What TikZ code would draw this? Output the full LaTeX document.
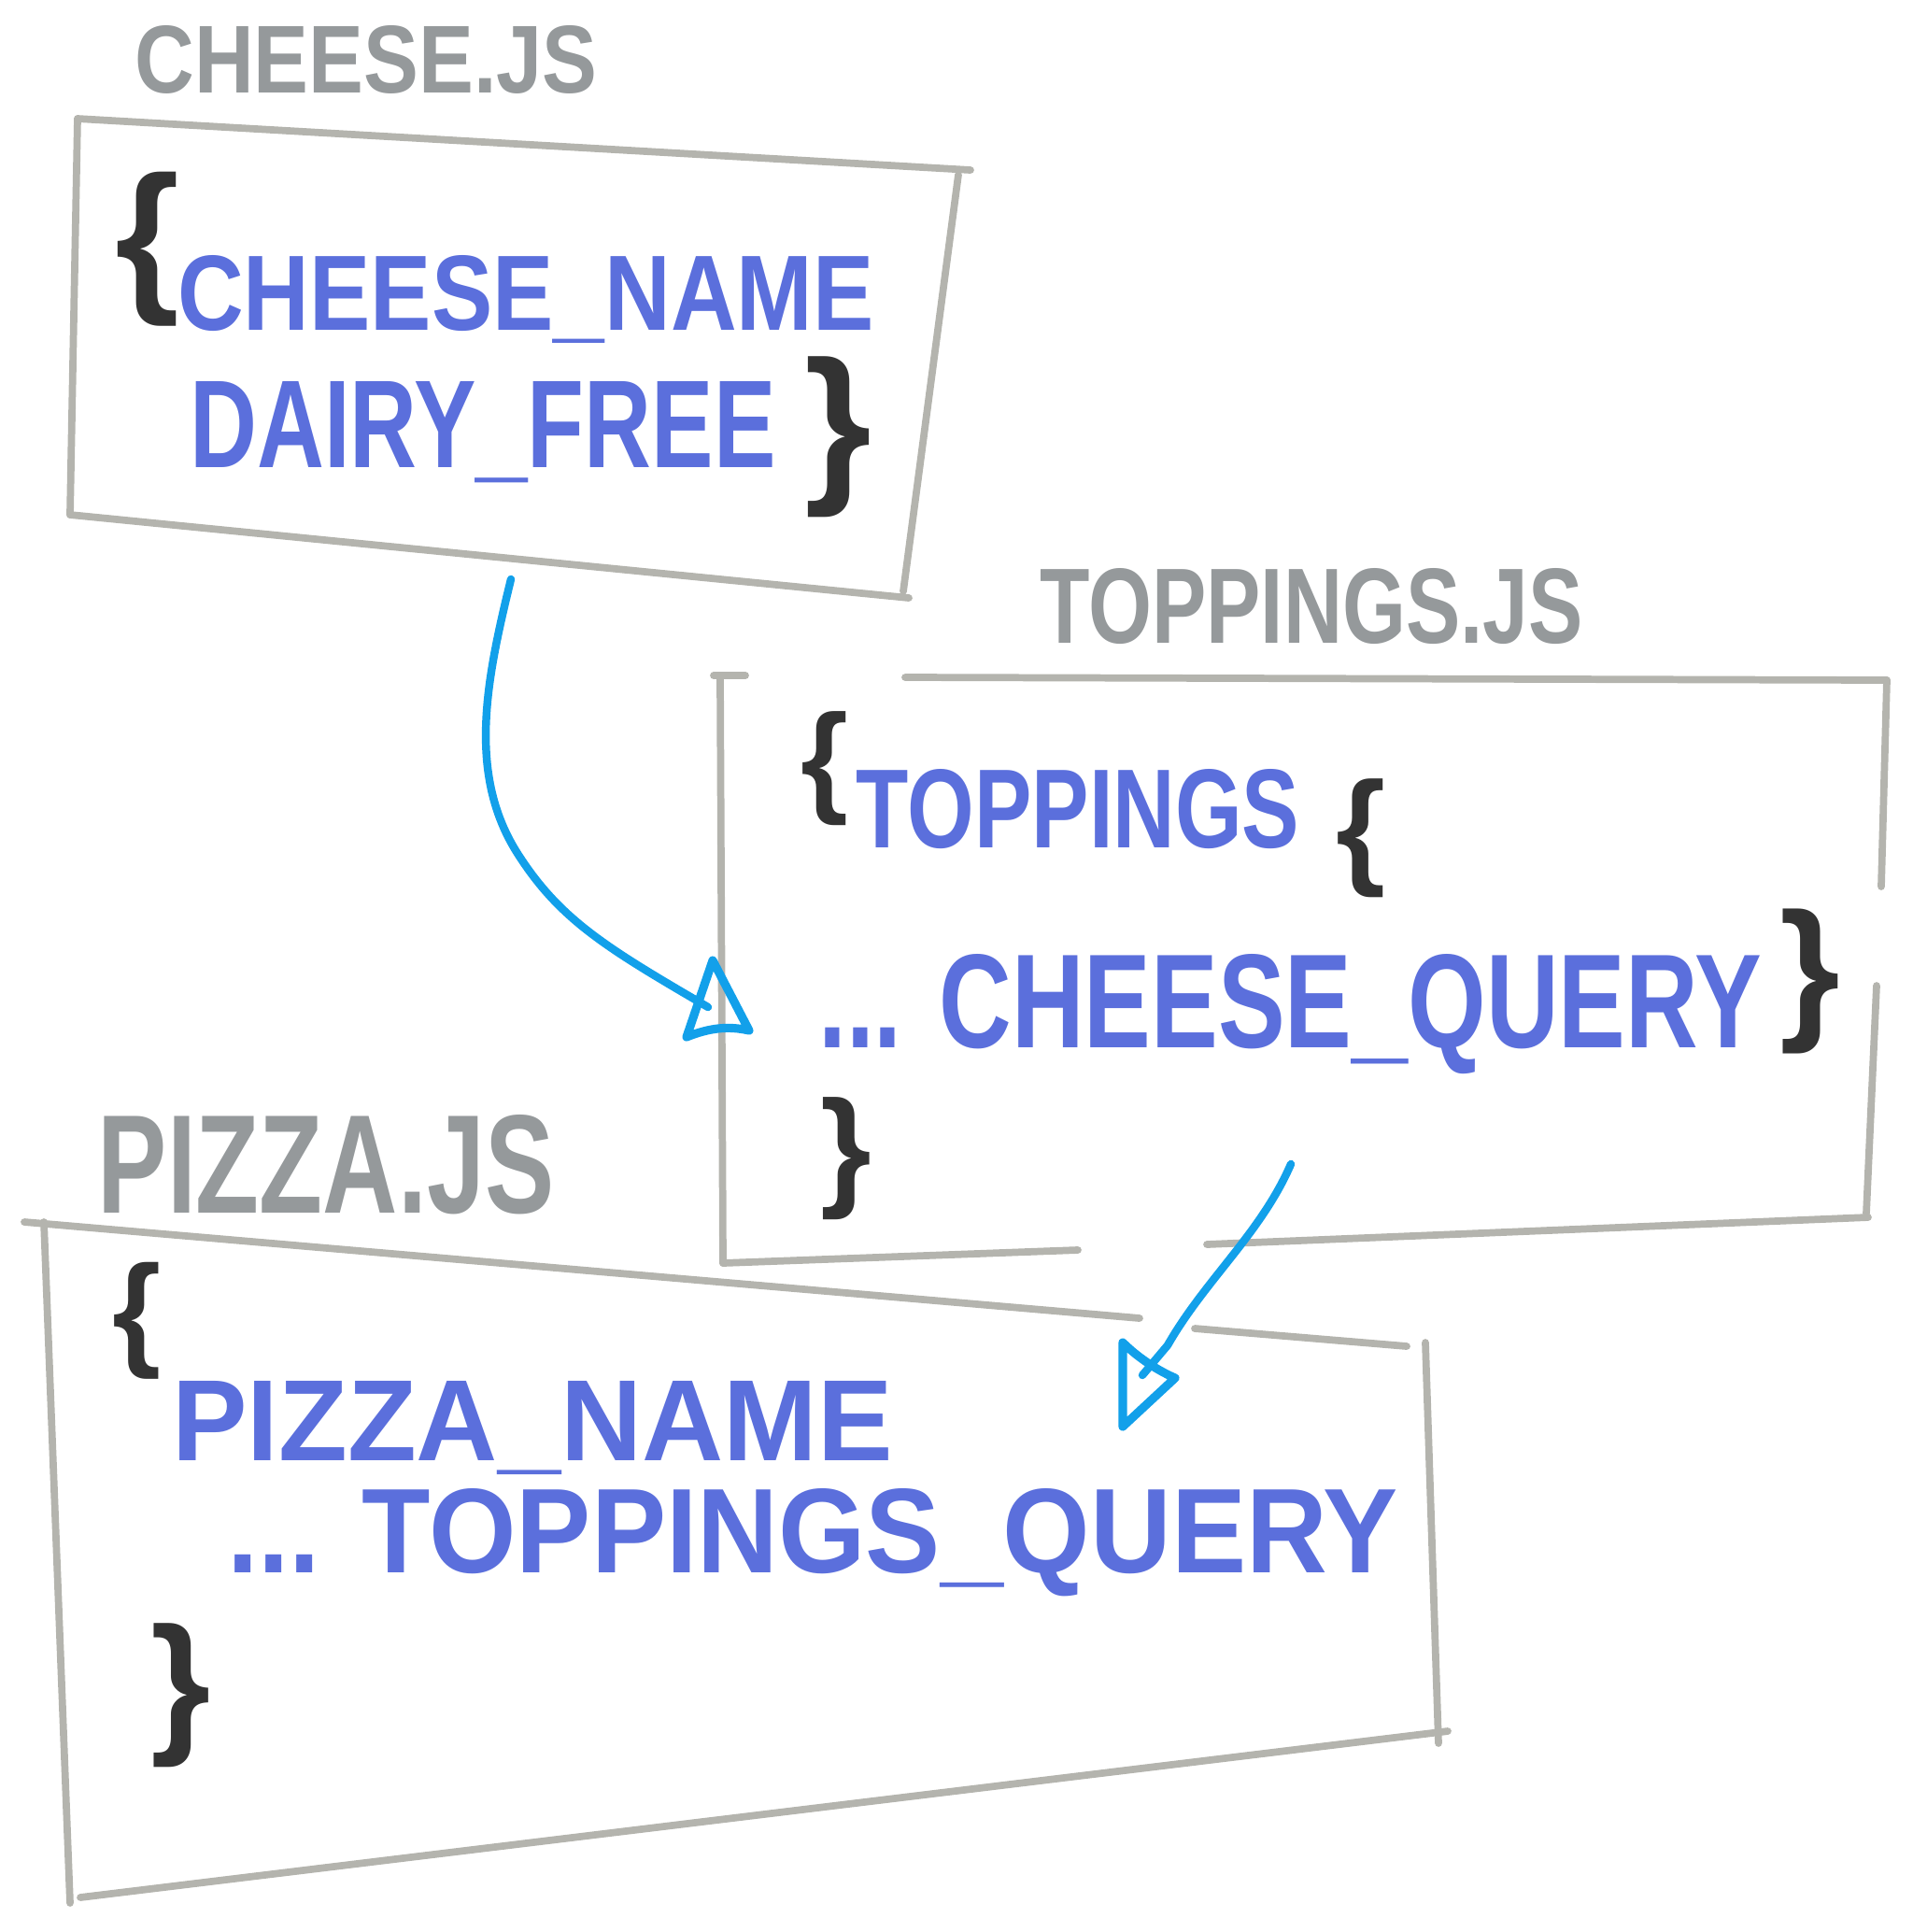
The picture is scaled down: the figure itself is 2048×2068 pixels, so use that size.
\documentclass[tikz,border=0pt]{standalone}
\usepackage{fontspec}
\setmainfont{Liberation Sans}
\usepackage{graphicx}
\definecolor{boxgray}{HTML}{B4B4AE}
\definecolor{labelgray}{HTML}{95999B}
\definecolor{codeblue}{HTML}{5B6FDC}
\definecolor{braceblack}{HTML}{333333}
\definecolor{arrowblue}{HTML}{12A0EA}
\newcommand{\fitwh}[3]{\resizebox{#1}{#2}{#3}}
\newcommand{\fitbrace}[2]{\resizebox*{!}{#1}{#2}}
\begin{document}
\begin{tikzpicture}[x=0.01cm,y=-0.01cm,
  boxline/.style={draw=boxgray, line width=2.2pt, line cap=round, line join=round},
  lbl/.style={text=labelgray, inner sep=0pt, font=\bfseries, anchor=base},
  code/.style={text=codeblue, inner sep=0pt, font=\bfseries, anchor=base},
  bracemark/.style={text=braceblack, inner sep=0pt, font=\bfseries},
  flow/.style={draw=arrowblue, line width=2.4pt, line cap=round, line join=round},
  head/.style={draw=arrowblue, line width=2.6pt, line cap=round, line join=round}]
\useasboundingbox (0,0) rectangle (2048,2068);

% ---------- cheese.js box ----------
\draw[boxline] (83,127) -- (1039,182);
\draw[boxline] (1026,187) -- (967,633);
\draw[boxline] (973,640) -- (75,551);
\draw[boxline] (83,127) -- (75,551);

\node[lbl] (cheeseLbl) at (392,99) {\fitwh{4.95cm}{0.72cm}{CHEESE.JS}};
\node[bracemark] (cb1) at (158,267) {\fitbrace{1.65cm}{\{}};
\node[code] (cheeseName) at (563,353) {\fitwh{7.45cm}{0.8cm}{CHEESE\_NAME}};
\node[code] (dairyFree) at (517,500) {\fitwh{6.27cm}{0.92cm}{DAIRY\_FREE}};
\node[bracemark] (cb2) at (897,468) {\fitbrace{1.72cm}{\}}};

% ---------- toppings.js box ----------
\draw[boxline] (764,723) -- (798,723);
\draw[boxline] (771,723) -- (774,1352);
\draw[boxline] (969,725) -- (2020,728);
\draw[boxline] (2020,728) -- (2014,949);
\draw[boxline] (2009,1055) -- (1998,1299);
\draw[boxline] (2000,1303) -- (1292,1332);
\draw[boxline] (1154,1338) -- (774,1352);

\node[lbl] (toppingsLbl) at (1404,688) {\fitwh{5.81cm}{0.8cm}{TOPPINGS.JS}};
\node[bracemark] (tb1) at (883,823) {\fitbrace{1.22cm}{\{}};
\node[code] (toppings) at (1154,907) {\fitwh{4.74cm}{0.84cm}{TOPPINGS}};
\node[bracemark] (tb2) at (1457,897) {\fitbrace{1.27cm}{\{}};
\node[code] (cheeseQuery) at (1381,1121) {\fitwh{10.09cm}{1.0cm}{... CHEESE\_QUERY}};
\node[bracemark] (tb3) at (1938,1050) {\fitbrace{1.55cm}{\}}};
\node[bracemark] (tb4) at (906,1240) {\fitbrace{1.31cm}{\}}};

% ---------- pizza.js box ----------
\draw[boxline] (26,1308) -- (1220,1411);
\draw[boxline] (1279,1422) -- (1506,1441);
\draw[boxline] (1526,1437) -- (1540,1866);
\draw[boxline] (1550,1853) -- (86,2031);
\draw[boxline] (47,1308) -- (75,2037);

\node[lbl] (pizzaLbl) at (349,1298) {\fitwh{4.88cm}{1.05cm}{PIZZA.JS}};
\node[bracemark] (pb1) at (147,1414) {\fitbrace{1.25cm}{\{}};
\node[code] (pizzaName) at (570,1563) {\fitwh{7.71cm}{0.85cm}{PIZZA\_NAME}};
\node[code] (toppingsQuery) at (870,1683) {\fitwh{12.53cm}{0.9cm}{... TOPPINGS\_QUERY}};
\node[bracemark] (pb2) at (194,1815) {\fitbrace{1.54cm}{\}}};

% ---------- connectors ----------
\coordinate (a1s) at (547,620);
\coordinate (a1e) at (758,1078);
\coordinate (a1h1) at (763,1028);
\coordinate (a1h2) at (802,1103);
\coordinate (a1h3) at (735,1110);
\draw[flow] (a1s) .. controls (520,730) and (500,830) .. (555,915)
  .. controls (600,985) and (650,1015) .. (a1e);
\draw[head] (a1h1) -- (a1h2) .. controls (780,1098) and (760,1100) .. (a1h3) -- cycle;

\coordinate (a2s) at (1382,1246);
\coordinate (a2e) at (1223,1472);
\coordinate (a2h1) at (1202,1437);
\coordinate (a2h2) at (1258,1475);
\coordinate (a2h3) at (1202,1527);
\draw[flow] (a2s) .. controls (1350,1320) and (1290,1370) .. (1250,1440)
  -- (a2e);
\draw[head] (a2h1) -- (a2h3) -- (a2h2) .. controls (1235,1465) and (1215,1450) .. cycle;
\end{tikzpicture}
\end{document}
